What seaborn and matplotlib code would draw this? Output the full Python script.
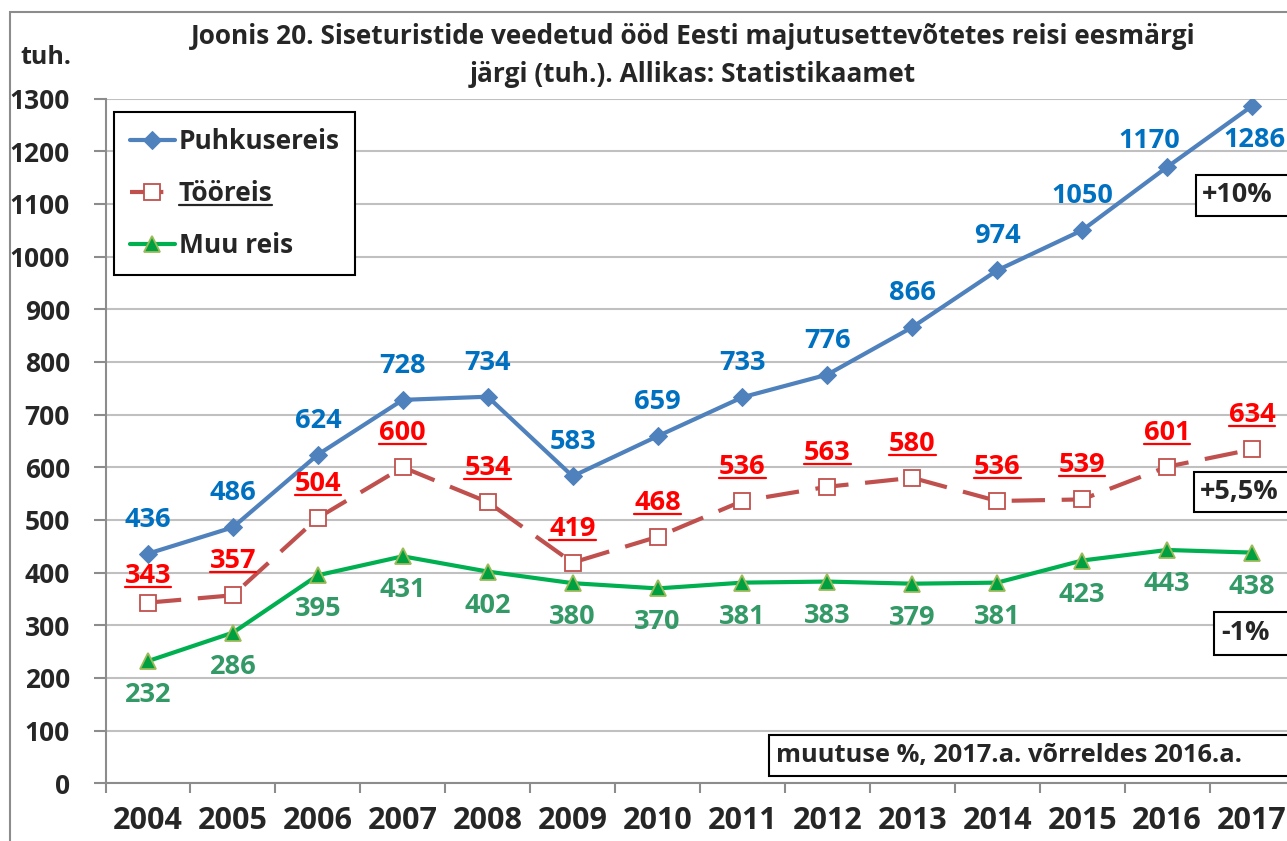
import matplotlib
matplotlib.use("Agg")
import matplotlib.pyplot as plt
import seaborn as sns
import pandas as pd
from matplotlib.lines import Line2D
from matplotlib.patches import Rectangle
from matplotlib.ticker import FixedLocator

# data (thousands of nights)
years = [2004, 2005, 2006, 2007, 2008, 2009, 2010, 2011, 2012, 2013, 2014, 2015, 2016, 2017]
puhkusereis = [436, 486, 624, 728, 734, 583, 659, 733, 776, 866, 974, 1050, 1170, 1286]
tooreis = [343, 357, 504, 600, 534, 419, 468, 536, 563, 580, 536, 539, 601, 634]
muu_reis = [232, 286, 395, 431, 402, 380, 370, 381, 383, 379, 381, 423, 443, 438]
series_names = ["Puhkusereis", "Tööreis", "Muu reis"]
change_labels = ["+10%", "+5,5%", "-1%"]
y_ticks = list(range(0, 1301, 100))

W, H = 1287, 841


def fx(px):
    return px / W


def fy(py):
    return 1 - py / H


sns.set_style("whitegrid")
plt.rcParams['font.family'] = ['Open Sans', 'DejaVu Sans']
plt.rcParams['font.weight'] = 'bold'

df = pd.DataFrame({"year": years, "Puhkusereis": puhkusereis,
                   "Tööreis": tooreis, "Muu reis": muu_reis})

fig = plt.figure(figsize=(W / 100, H / 100), dpi=100)
ax = fig.add_axes([fx(105.5), fy(783.3), fx(1294.5) - fx(105.5), fy(98.6) - fy(783.3)])

# outer chart frame
fig.add_artist(Rectangle((fx(10), fy(900)), fx(1400), fy(12) - fy(900),
                         transform=fig.transFigure, fill=False,
                         edgecolor='#8c8c8c', lw=1.5))

sns.lineplot(data=df, x="year", y="Puhkusereis", ax=ax, color='#4F81BD', lw=3,
             marker='D', markersize=9, markeredgecolor='#4F81BD', label=series_names[0])
sns.lineplot(data=df, x="year", y="Tööreis", ax=ax, color='#C0504D', lw=3,
             linestyle=(0, (8, 4)), marker='s', markersize=12,
             markerfacecolor='white', markeredgecolor='#C0504D', markeredgewidth=1.3,
             label=series_names[1])
sns.lineplot(data=df, x="year", y="Muu reis", ax=ax, color='#00B050', lw=3,
             marker='^', markersize=11, markerfacecolor='#00A040',
             markeredgecolor='#9BBB59', markeredgewidth=1.3, label=series_names[2])

ax.set_xlim(years[0] - 0.5, years[-1] + 0.5)
ax.set_ylim(0, 1300)
ax.set_xlabel("")
ax.set_ylabel("")
ax.set_yticks(y_ticks)
ax.set_xticks(years)
ax.set_xticklabels([str(y) for y in years])
ax.xaxis.set_minor_locator(FixedLocator([y - 0.5 for y in years] + [years[-1] + 0.5]))
ax.tick_params(axis='y', which='major', length=9, width=1.5, color='#8c8c8c',
               pad=16.5, labelsize=19, left=True)
ax.tick_params(axis='x', which='major', length=0, pad=16, labelsize=22)
ax.tick_params(axis='x', which='minor', length=7, width=1.5, color='#8c8c8c',
               direction='out', bottom=True)
for lab in ax.get_xticklabels() + ax.get_yticklabels():
    lab.set_fontweight('bold')
ax.grid(axis='x', visible=False)
ax.grid(axis='y', color='#c0c0c0', lw=1.5)
for s in ['top', 'right']:
    ax.spines[s].set_visible(False)
for s in ['left', 'bottom']:
    ax.spines[s].set_color('#8c8c8c')
    ax.spines[s].set_linewidth(1.5)

# data labels
off = 24.5
lab_fs = 19.5
red_texts = []
for i, (yr, v) in enumerate(zip(years, puhkusereis)):
    dx, dy = 0, off
    if i == len(years) - 1:
        dx, dy = 2, -off
    elif i == len(years) - 2:
        dx, dy = -13, 18.5
    ax.annotate(str(v), (yr, v), xytext=(dx, dy), textcoords='offset points',
                ha='center', va='center', fontsize=lab_fs, fontweight='bold',
                color='#0070C0', annotation_clip=False)
for i, (yr, v) in enumerate(zip(years, tooreis)):
    dy = 19 if i == 0 else off
    t = ax.annotate(str(v), (yr, v), xytext=(0, dy), textcoords='offset points',
                    ha='center', va='center', fontsize=lab_fs, fontweight='bold',
                    color='#FF0000', annotation_clip=False)
    red_texts.append(t)
for yr, v in zip(years, muu_reis):
    ax.annotate(str(v), (yr, v), xytext=(0, -off), textcoords='offset points',
                ha='center', va='center', fontsize=lab_fs, fontweight='bold',
                color='#339966', annotation_clip=False)

# legend
leg = ax.legend(loc='upper left', bbox_to_anchor=(fx(114), fy(112)),
                bbox_transform=fig.transFigure, fontsize=19, frameon=True,
                fancybox=False, edgecolor='black', framealpha=1,
                handlelength=1.7, handletextpad=0.15, labelspacing=0.95,
                borderpad=0.6, borderaxespad=0)
leg.get_frame().set_linewidth(1.5)
for t in leg.get_texts():
    t.set_fontweight('bold')

# title and unit
fig.text(fx(693), fy(37), "Joonis 20. Siseturistide veedetud ööd Eesti majutusettevõtetes reisi eesmärgi",
         ha='center', va='center', fontsize=18.9, fontweight='bold')
fig.text(fx(693), fy(75), "järgi (tuh.). Allikas: Statistikaamet",
         ha='center', va='center', fontsize=18.9, fontweight='bold')
fig.text(fx(46), fy(58), "tuh.", ha='center', va='center', fontsize=18, fontweight='bold')

# change boxes on the right
boxes = [(1196, 175, 216, 1202, change_labels[0], 19.5),
         (1194, 472, 512, 1200, change_labels[1], 19.5),
         (1214, 612, 655, 1221, change_labels[2], 19.5),
         (769, 735, 776, 776, "muutuse %, 2017.a. võrreldes 2016.a.", 18.3)]
for x0, y0, y1, tx, txt, fs in boxes:
    fig.add_artist(Rectangle((fx(x0), fy(y1)), fx(1400 - x0), fy(y0) - fy(y1),
                             transform=fig.transFigure, facecolor='white',
                             edgecolor='black', lw=1.5))
    fig.text(fx(tx), fy((y0 + y1) / 2), txt, ha='left', va='center',
             fontsize=fs, fontweight='bold')

# underline red labels and the Tööreis legend entry
fig.canvas.draw()
renderer = fig.canvas.get_renderer()
inv = fig.transFigure.inverted()
to_underline = red_texts + [leg.get_texts()[1]]
for t in to_underline:
    bb = t.get_window_extent(renderer)
    yline = bb.y0 + 2
    p0 = inv.transform((bb.x0, yline))
    p1 = inv.transform((bb.x1, yline))
    col = t.get_color()
    fig.add_artist(Line2D([p0[0], p1[0]], [p0[1], p1[1]], transform=fig.transFigure,
                          color=col, lw=1.6))

fig.savefig("out.png", dpi=100)
